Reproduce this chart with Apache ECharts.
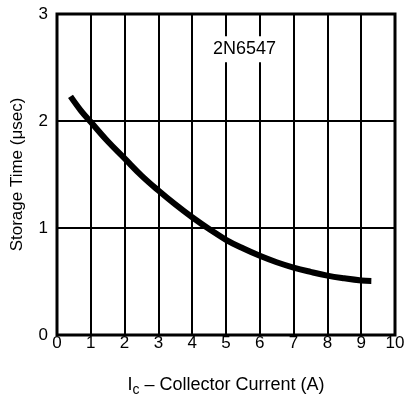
<!DOCTYPE html>
<html><head><meta charset="utf-8">
<script src="https://cdn.jsdelivr.net/npm/echarts@6/dist/echarts.min.js"></script>
<style>html,body{margin:0;padding:0;background:#fff}#c{width:405px;height:398px}</style>
</head><body><div id="c"></div>
<script>
const currentA = [0.4, 0.7, 1, 1.5, 2, 2.5, 3, 3.5, 4, 4.5, 5, 5.5, 6, 6.5, 7, 7.5, 8, 8.5, 9, 9.3];
const storageUs = [2.23, 2.1, 1.99, 1.81, 1.65, 1.49, 1.35, 1.22, 1.1, 0.99, 0.89, 0.81, 0.74, 0.68, 0.63, 0.59, 0.555, 0.53, 0.51, 0.505];
const xTicks = [0,1,2,3,4,5,6,7,8,9,10];
const yTicks = [0,1,2,3];
const label = '2N6547';

const chart = echarts.init(document.getElementById('c'));
const font = 'Liberation Sans, Arial, sans-serif';
chart.setOption({
  animation: false,
  grid: {left: 57, right: 10, top: 14, bottom: 63, show: true, borderColor: '#000', borderWidth: 3,
    containLabel: false, outerBoundsMode: 'none'},
  xAxis: {type: 'value', min: 0, max: 10, interval: 1,
    axisLine: {show: false}, axisTick: {show: false},
    splitLine: {lineStyle: {color: '#000', width: 2}},
    axisLabel: {color: '#000', fontFamily: font, fontSize: 17, margin: 0,
      formatter: v => xTicks.includes(v) ? String(v) : ''},
    name: '{a|I}{s|c}{a| – Collector Current (A)}', nameLocation: 'middle', nameGap: 38,
    nameTextStyle: {rich: {a: {fontFamily: font, fontSize: 18, color: '#000'}, s: {fontFamily: font, fontSize: 14, color: '#000', padding: [10,0,0,0]}}}
  },
  yAxis: {type: 'value', min: 0, max: 3, interval: 1,
    axisLine: {show: false}, axisTick: {show: false},
    splitLine: {lineStyle: {color: '#000', width: 2}},
    axisLabel: {color: '#000', fontFamily: font, fontSize: 17, margin: 9,
      formatter: v => yTicks.includes(v) ? String(v) : ''},
    name: 'Storage Time (μsec)', nameLocation: 'middle', nameGap: 31,
    nameTextStyle: {fontFamily: font, fontSize: 17, color: '#000'}
  },
  series: [{
    type: 'line', smooth: 0.4, symbol: 'none',
    lineStyle: {color: '#000', width: 6},
    data: currentA.map((x, i) => [x, storageUs[i]]),
    markPoint: {symbol: 'rect', symbolSize: [1,1], itemStyle: {color: 'transparent'},
      data: [{coord: [5.55, 2.67], label: {show: true, formatter: label, color: '#000', fontFamily: font, fontSize: 18, backgroundColor: '#fff', padding: [4,4]}}]}
  }]
});
</script></body></html>
